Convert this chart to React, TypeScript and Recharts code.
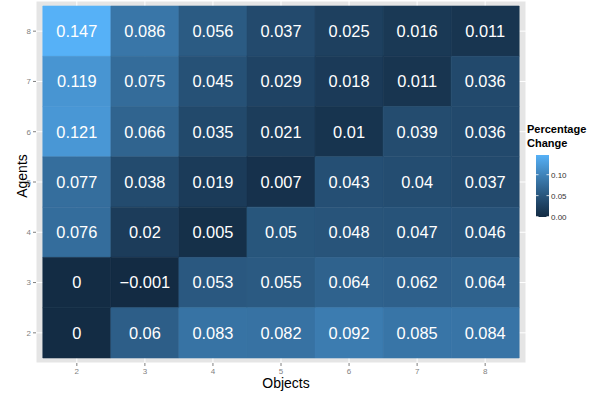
import { ScatterChart, Scatter, XAxis, YAxis, CartesianGrid, ReferenceArea } from 'recharts'

// grid of objects (columns) by agents (rows, top to bottom)
const objects = [2, 3, 4, 5, 6, 7, 8]
const agents = [8, 7, 6, 5, 4, 3, 2]

const agents8 = [0.147, 0.086, 0.056, 0.037, 0.025, 0.016, 0.011]
const agents7 = [0.119, 0.075, 0.045, 0.029, 0.018, 0.011, 0.036]
const agents6 = [0.121, 0.066, 0.035, 0.021, 0.01, 0.039, 0.036]
const agents5 = [0.077, 0.038, 0.019, 0.007, 0.043, 0.04, 0.037]
const agents4 = [0.076, 0.02, 0.005, 0.05, 0.048, 0.047, 0.046]
const agents3 = [0, -0.001, 0.053, 0.055, 0.064, 0.062, 0.064]
const agents2 = [0, 0.06, 0.083, 0.082, 0.092, 0.085, 0.084]

const rows = [agents8, agents7, agents6, agents5, agents4, agents3, agents2]
const legendTicks = [0, 0.05, 0.1]
const legendLabels = ['0.00', '0.05', '0.10']

const tiles = agents.flatMap((agent, i) =>
  objects.map((object, j) => ({ agent, object, value: rows[i][j] }))
)

const values = tiles.map(t => t.value)
const vMin = Math.min(...values)
const vMax = Math.max(...values)

// ggplot-style sequential gradient, interpolated in Lab space
const LOW = '#132B43'
const HIGH = '#56B1F7'

const toLinear = (c: number) => (c <= 0.04045 ? c / 12.92 : Math.pow((c + 0.055) / 1.055, 2.4))
const fromLinear = (c: number) => (c <= 0.0031308 ? 12.92 * c : 1.055 * Math.pow(c, 1 / 2.4) - 0.055)
const Xn = 0.95047, Yn = 1, Zn = 1.08883
const f = (t: number) => (t > 216 / 24389 ? Math.cbrt(t) : (24389 / 27 * t + 16) / 116)
const fInv = (t: number) => (t * t * t > 216 / 24389 ? t * t * t : (116 * t - 16) / (24389 / 27))

const hexToLab = (hex: string) => {
  const n = parseInt(hex.slice(1), 16)
  const [r, g, b] = [(n >> 16) & 255, (n >> 8) & 255, n & 255].map(v => toLinear(v / 255))
  const x = 0.4124564 * r + 0.3575761 * g + 0.1804375 * b
  const y = 0.2126729 * r + 0.7151522 * g + 0.072175 * b
  const z = 0.0193339 * r + 0.119192 * g + 0.9503041 * b
  const fx = f(x / Xn), fy = f(y / Yn), fz = f(z / Zn)
  return [116 * fy - 16, 500 * (fx - fy), 200 * (fy - fz)]
}

const labToHex = ([L, a, bb]: number[]) => {
  const fy = (L + 16) / 116
  const fx = fy + a / 500
  const fz = fy - bb / 200
  const x = Xn * fInv(fx), y = Yn * fInv(fy), z = Zn * fInv(fz)
  const r = 3.2404542 * x - 1.5371385 * y - 0.4985314 * z
  const g = -0.969266 * x + 1.8760108 * y + 0.041556 * z
  const b = 0.0556434 * x - 0.2040259 * y + 1.0572252 * z
  return '#' + [r, g, b]
    .map(c => Math.round(Math.min(1, Math.max(0, fromLinear(c))) * 255).toString(16).padStart(2, '0'))
    .join('')
}

const lowLab = hexToLab(LOW)
const highLab = hexToLab(HIGH)

const colorFor = (v: number) => {
  const t = (v - vMin) / (vMax - vMin)
  return labToHex(lowLab.map((c, i) => c + (highLab[i] - c) * t))
}

const fmt = (v: number) => String(v).replace('-', '\u2212')

const FONT = '"Liberation Sans", Arial, Helvetica, sans-serif'

// colour bar legend
const BAR_TOP = 155
const BAR_H = 62
const barY = (v: number) => BAR_TOP + ((vMax - v) / (vMax - vMin)) * BAR_H
const gradientStops = Array.from({ length: 11 }, (_, i) => i / 10)

const Legend = () => (
  <svg width={80} height={120} style={{ position: 'absolute', left: 520, top: 110, overflow: 'visible' }}>
    <defs>
      <linearGradient id="pctGrad" x1="0" y1="1" x2="0" y2="0">
        {gradientStops.map(s => (
          <stop key={s} offset={s} stopColor={colorFor(vMin + s * (vMax - vMin))} />
        ))}
      </linearGradient>
    </defs>
    <text x={7} y={23} fontSize={11} fontWeight="bold" fontFamily={FONT} fill="#000">Percentage</text>
    <text x={7} y={37} fontSize={11} fontWeight="bold" fontFamily={FONT} fill="#000">Change</text>
    <rect x={16} y={BAR_TOP - 110} width={13} height={BAR_H} fill="url(#pctGrad)" />
    {legendTicks.map((t, i) => {
      const y = barY(t) - 110
      return (
        <g key={t}>
          <line x1={16} x2={18.5} y1={y} y2={y} stroke="#fff" strokeWidth={0.8} />
          <line x1={26.5} x2={29} y1={y} y2={y} stroke="#fff" strokeWidth={0.8} />
          <text x={31} y={y + 3} fontSize={8} fontFamily={FONT} fill="#333">{legendLabels[i]}</text>
        </g>
      )
    })}
  </svg>
)

const App = () => {
  return (
    <div style={{ position: 'absolute', left: 0, top: 0, width: 597, height: 398, background: '#fff', fontFamily: FONT }}>
      <ScatterChart width={597} height={398} margin={{ top: 1, right: 71, bottom: 0, left: 0 }}>
        <CartesianGrid fill="#E5E5E5" stroke="#fff" strokeWidth={1} fillOpacity={1} />
        <XAxis
          type="number"
          dataKey="object"
          domain={[1.4, 8.6]}
          ticks={objects}
          interval={0}
          allowDataOverflow
          height={35}
          tickSize={3}
          axisLine={false}
          tickLine={{ stroke: '#7f7f7f' }}
          tick={{ fontSize: 8, fill: '#7f7f7f', fontFamily: FONT }}
          label={{
            content: (p: any) => (
              <text x={p.viewBox.x + p.viewBox.width / 2 + 5} y={388} textAnchor="middle" fontSize={14} fontFamily={FONT} fill="#000">
                Objects
              </text>
            ),
          }}
        />
        <YAxis
          type="number"
          dataKey="agent"
          domain={[1.4, 8.6]}
          ticks={agents}
          interval={0}
          allowDataOverflow
          width={36}
          tickSize={3}
          axisLine={false}
          tickLine={{ stroke: '#7f7f7f' }}
          tick={{ fontSize: 8, fill: '#7f7f7f', fontFamily: FONT }}
          label={{
            content: (p: any) => (
              <text
                x={0}
                y={0}
                transform={`translate(27, ${p.viewBox.y + p.viewBox.height / 2 - 6}) rotate(-90)`}
                textAnchor="middle"
                fontSize={14}
                fontFamily={FONT}
                fill="#000"
              >
                Agents
              </text>
            ),
          }}
        />
        {tiles.map(t => (
          <ReferenceArea
            key={`${t.agent}-${t.object}`}
            x1={t.object - 0.5}
            x2={t.object + 0.5}
            y1={t.agent - 0.5}
            y2={t.agent + 0.5}
            fill={colorFor(t.value)}
            fillOpacity={1}
            stroke={colorFor(t.value)}
            strokeWidth={0.6}
            label={{ value: fmt(t.value), position: 'center', fill: '#fff', fontSize: 16.4, fontFamily: FONT }}
          />
        ))}
        <Scatter data={tiles} shape={() => <g />} isAnimationActive={false} />
      </ScatterChart>
      <Legend />
    </div>
  )
}

export default App
